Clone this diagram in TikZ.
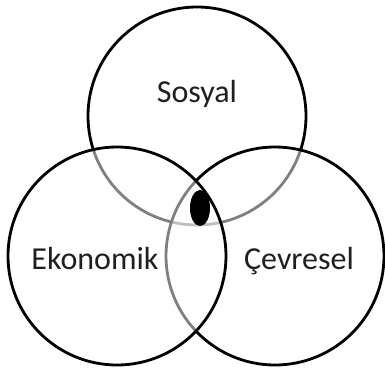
\documentclass[tikz,border=0pt]{standalone}
\usepackage{fontspec}
\setmainfont{Carlito}
\usetikzlibrary{shapes.geometric}
\begin{document}
\begin{tikzpicture}[x=1pt,y=-1pt,
  ring/.style={circle, draw=black, line width=2.8pt, minimum size=218pt, inner sep=0pt},
  veil/.style={ring, fill=white, fill opacity=0.5},
  lbl/.style={font=\fontsize{32}{38}\selectfont, text=black!88, anchor=base, inner sep=0pt}]
\useasboundingbox (0,0) rectangle (385,374);
\node[ring] (sosyalC) at (197,116) {};
\node[veil] (cevreC) at (275,256) {};
\node[veil] (ekoC) at (117,256) {};
\node[ellipse, fill=black, minimum width=20pt, minimum height=36pt, inner sep=0pt] (core) at (200,208) {};
\node[lbl] (sosyal) at (197,103) {Sosyal};
\node[lbl] (eko) at (95,269) {Ekonomik};
\node[lbl] (cevre) at (299,269) {Çevresel};
\end{tikzpicture}
\end{document}
